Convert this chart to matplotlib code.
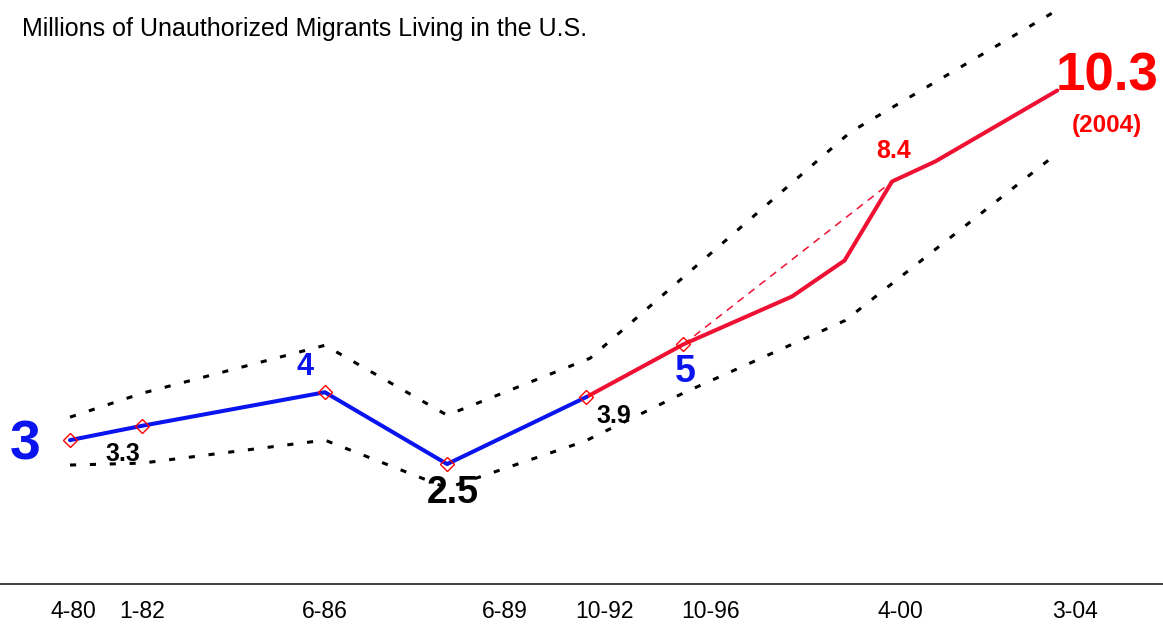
import matplotlib
matplotlib.use('Agg')
import matplotlib.pyplot as plt

# Central estimate (millions)
blue_years = [1980.25, 1982.0, 1986.42, 1989.38, 1992.75]
blue_vals = [3.0, 3.3, 4.0, 2.5, 3.9]
red_years = [1992.75, 1995.1, 1997.73, 1999.0, 2000.15, 2001.2, 2004.15]
red_vals = [3.9, 5.0, 6.0, 6.75, 8.4, 8.82, 10.3]
marker_years = [1980.25, 1982.0, 1986.42, 1989.38, 1992.75, 1995.1]
marker_vals = [3.0, 3.3, 4.0, 2.5, 3.9, 5.0]
dash_years = [1995.1, 2000.15]
dash_vals = [5.0, 8.4]

# Uncertainty band
upper_years = [1980.25, 1982.0, 1986.42, 1989.38, 1992.84, 1999.14, 2004.15]
upper_vals = [3.48, 3.98, 4.98, 3.52, 4.71, 9.43, 11.98]
lower_years = [1980.25, 1982.0, 1986.42, 1989.38, 1992.72, 1995.14, 1999.02, 2004.15]
lower_vals = [2.48, 2.52, 3.0, 2.0, 2.98, 4.0, 5.5, 8.99]

tick_labels = ['4-80', '1-82', '6-86', '6-89', '10-92', '10-96', '4-00', '3-04']
tick_pos = [1980.32, 1981.99, 1986.42, 1990.78, 1993.2, 1995.75, 2000.35, 2004.58]

plt.rcParams['font.family'] = ['Liberation Sans', 'DejaVu Sans']

fig = plt.figure(figsize=(11.63, 6.25), dpi=100)
ax = fig.add_axes([0, 0, 1, 1])
ax.set_xlim(1978.555, 2006.71)
ax.set_ylim(-0.86, 12.19)
ax.axis('off')

ax.axhline(0, color='#333333', lw=1.3)

dot = (0, (2, 4.5))
ax.plot(upper_years, upper_vals, color='black', lw=2.2, ls=dot)
ax.plot(lower_years, lower_vals, color='black', lw=2.2, ls=dot)

ax.plot(dash_years, dash_vals, color='#ee1133', lw=1.1, ls=(0, (5, 4)))
ax.plot(red_years, red_vals, color='#ee1133', lw=2.9, solid_capstyle='round')
ax.plot(blue_years, blue_vals, color='#0a14ee', lw=2.9, solid_capstyle='round')
ax.plot(marker_years, marker_vals, ls='none', marker='D', ms=7.5, mfc='none',
        mec='red', mew=1)

# value labels: (year, value, text, dx, dy, size, colour)
labels = [
    (blue_years[0], blue_vals[0], '3', -32, -4, 40, '#0a14ee'),
    (blue_years[1], blue_vals[1], '3.3', -14, -20, 18, 'black'),
    (blue_years[2], blue_vals[2], '4', -14, 18, 22, '#0a14ee'),
    (blue_years[3], blue_vals[3], '2.5', 4, -21, 27, 'black'),
    (blue_years[4], blue_vals[4], '3.9', 20, -14, 18, 'black'),
    (red_years[1], red_vals[1], '5', 1, -20, 27, '#0a14ee'),
    (red_years[4], red_vals[4], '8.4', 1, 22, 18, 'red'),
    (red_years[-1], red_vals[-1], '10.3', 36, 10, 38, 'red'),
    (red_years[-1], red_vals[-1], '(2004)', 36, -25, 17.5, 'red'),
]
for x, y, s, dx, dy, size, c in labels:
    ax.annotate(s, (x, y), xytext=(dx, dy), textcoords='offset points',
                ha='center', va='center', fontsize=size, fontweight='bold',
                color=c)

for x, s in zip(tick_pos, tick_labels):
    ax.text(x, -0.57, s, ha='center', va='center', fontsize=16.5)

fig.text(22 / 1163, 1 - 29 / 625, 'Millions of Unauthorized Migrants Living in the U.S.',
         ha='left', va='center', fontsize=18)

fig.savefig('out.png', dpi=100)
